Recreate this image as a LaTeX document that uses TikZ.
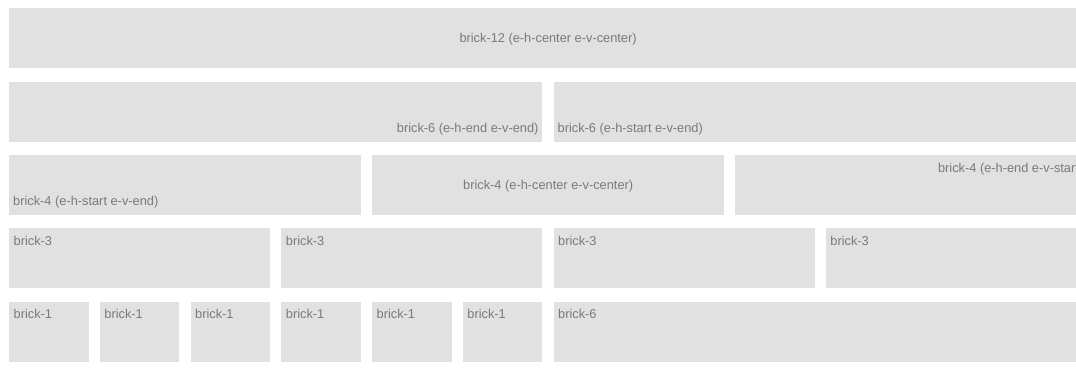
\documentclass[tikz,border=0pt]{standalone}
\usepackage{fontspec}
\setmainfont{Liberation Sans}

\definecolor{brickfill}{RGB}{224,225,224}
\definecolor{bricktext}{RGB}{122,122,122}

\tikzset{
  brick/.style={fill=brickfill, anchor=north west, inner sep=0pt, minimum height=60pt},
  tag/.style={text=bricktext, font=\fontsize{12.8}{15}\selectfont, inner sep=0pt},
}

\begin{document}
\begin{tikzpicture}[x=1pt,y=-1pt]
    % Page size, the grid runs past the right edge
    \useasboundingbox (0,0) rectangle (1076,373);
    \clip (0,0) rectangle (1076,373);

    % Row 1: one brick-12
    \node[brick, minimum width=1077.75pt] (b12) at (9,8) {};
    \node[tag, anchor=base] (t12) at ([yshift=-4.5pt]b12.center) {brick-12 (e-h-center e-v-center)};

    % Row 2: two brick-6
    \node[brick, minimum width=533.25pt] (b6a) at (9,81.3) {};
    \node[brick, minimum width=533.25pt] (b6b) at (553.5,81.3) {};
    \node[tag, anchor=base east] (t6a) at ([shift={(-4pt,9.5pt)}]b6a.south east) {brick-6 (e-h-end e-v-end)};
    \node[tag, anchor=base west] (t6b) at ([shift={(4pt,9.5pt)}]b6b.south west) {brick-6 (e-h-start e-v-end)};

    % Row 3: three brick-4
    \node[brick, minimum width=352pt] (b4a) at (9,154.6) {};
    \node[brick, minimum width=352pt] (b4b) at (372,154.6) {};
    \node[brick, minimum width=352pt] (b4c) at (735,154.6) {};
    \node[tag, anchor=base west] (t4a) at ([shift={(4pt,9.5pt)}]b4a.south west) {brick-4 (e-h-start e-v-end)};
    \node[tag, anchor=base] (t4b) at ([yshift=-4.5pt]b4b.center) {brick-4 (e-h-center e-v-center)};
    \node[tag, anchor=base east] (t4c) at ([shift={(-4pt,-17.5pt)}]b4c.north east) {brick-4 (e-h-end e-v-start)};

    % Row 4: four brick-3
    \foreach \i in {0,...,3} {
        \node[brick, minimum width=261pt] (b3\i) at (9+272.25*\i,228) {};
        \node[tag, anchor=base west] (t3\i) at ([shift={(4.5pt,-17.5pt)}]b3\i.north west) {brick-3};
    }

    % Row 5: six brick-1 and a brick-6
    \foreach \i in {0,...,5} {
        \node[brick, minimum width=79.5pt] (b1\i) at (9+90.75*\i,301.3) {};
        \node[tag, anchor=base west] (t1\i) at ([shift={(4.5pt,-17.5pt)}]b1\i.north west) {brick-1};
    }
    \node[brick, minimum width=533.25pt] (b6c) at (553.5,301.3) {};
    \node[tag, anchor=base west] (t6c) at ([shift={(4.5pt,-17.5pt)}]b6c.north west) {brick-6};

\end{tikzpicture}
\end{document}
